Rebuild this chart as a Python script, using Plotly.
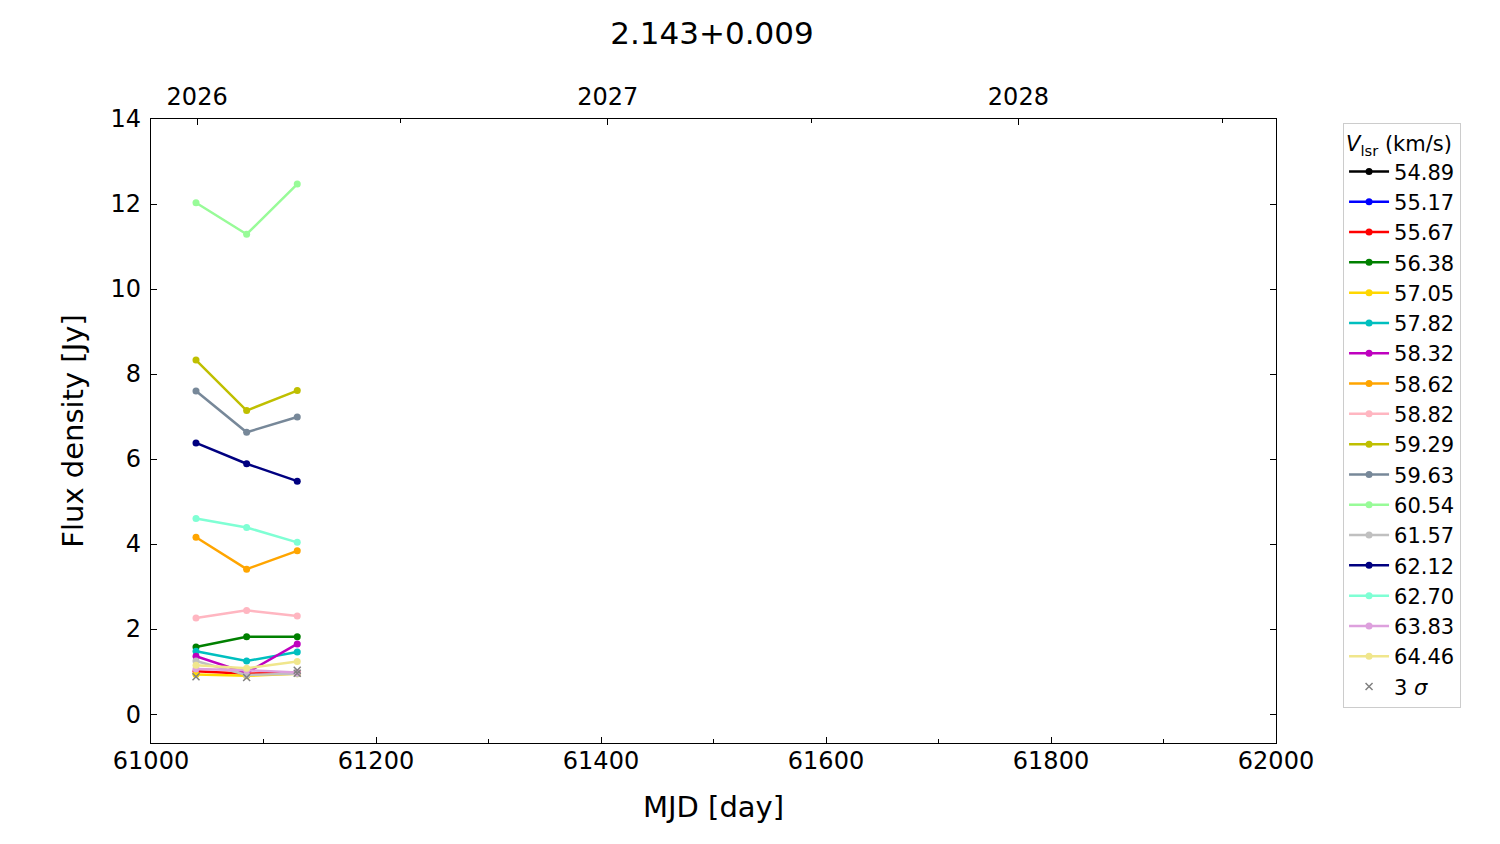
import plotly.graph_objects as go

mjd = [61040, 61085, 61130]
velocities = ["54.89", "55.17", "55.67", "56.38", "57.05", "57.82", "58.32", "58.62",
              "58.82", "59.29", "59.63", "60.54", "61.57", "62.12", "62.70", "63.83", "64.46"]
colors = ["#000000", "#0000FF", "#FF0000", "#008000", "#FFD700", "#00BFBF", "#BF00BF", "#FFA500",
          "#FFB6C1", "#BFBF00", "#778899", "#98FB98", "#C0C0C0", "#000080", "#7FFFD4", "#DDA0DD", "#F0E68C"]
flux = {
    "54.89": [None, None, None],
    "55.17": [None, None, None],
    "55.67": [1.01, 0.95, 0.97],
    "56.38": [1.58, 1.82, 1.82],
    "57.05": [0.93, 0.90, 0.95],
    "57.82": [1.48, 1.25, 1.46],
    "58.32": [1.36, 0.97, 1.65],
    "58.62": [4.16, 3.41, 3.84],
    "58.82": [2.26, 2.44, 2.31],
    "59.29": [8.33, 7.14, 7.61],
    "59.63": [7.60, 6.63, 6.99],
    "60.54": [12.03, 11.29, 12.47],
    "61.57": [1.25, 0.92, 0.95],
    "62.12": [6.38, 5.89, 5.48],
    "62.70": [4.60, 4.39, 4.04],
    "63.83": [1.06, 1.03, 0.98],
    "64.46": [1.15, 1.08, 1.24],
}
sigma_mjd = [61040, 61085, 61130, 61130]
sigma_flux = [0.88, 0.86, 0.96, 1.03]

x_ticks = [61000, 61200, 61400, 61600, 61800, 62000]
x_minor = [61100, 61300, 61500, 61700, 61900]
y_ticks = [0, 2, 4, 6, 8, 10, 12, 14]
year_mjd = [61041, 61406, 61771]
year_labels = ["2026", "2027", "2028"]
halfyear_mjd = [61222, 61587, 61952]

font = "DejaVu Sans"
fig = go.Figure()
for v, c in zip(velocities, colors):
    fig.add_trace(go.Scatter(x=mjd, y=flux[v], mode="lines+markers", name=v,
                             line=dict(color=c, width=2.5), marker=dict(color=c, size=7)))
fig.add_trace(go.Scatter(x=sigma_mjd, y=sigma_flux, mode="markers", name="3 <i>σ</i>",
                         marker=dict(symbol="x-thin", color="gray", size=7,
                                     line=dict(color="gray", width=1.5))))
# dummy trace to activate top axis
fig.add_trace(go.Scatter(x=[61000, 62000], y=[None, None], xaxis="x2", showlegend=False,
                         hoverinfo="skip"))

fig.update_layout(
    width=1500, height=844,
    plot_bgcolor="white", paper_bgcolor="white",
    margin=dict(l=143, r=232, t=111, b=109, autoexpand=False),
    font=dict(family=font, size=18, color="black"),
    title=dict(text="2.143+0.009", x=0.4693, xanchor="center", y=0.970, yanchor="middle",
               font=dict(size=31), automargin=False),
    xaxis=dict(range=[61000, 62000], tickvals=x_ticks, ticktext=[str(v) for v in x_ticks],
               ticks="inside", ticklen=6, tickcolor="black", showgrid=False, zeroline=False,
               showline=True, linecolor="black", linewidth=1.2, mirror=False, automargin=False,
               ticklabelstandoff=-4,
               minor=dict(tickvals=x_minor, ticks="inside", ticklen=4, tickcolor="black"),
               title=dict(text="MJD [day]", font=dict(size=29), standoff=22),
               tickfont=dict(size=24)),
    xaxis2=dict(range=[61000, 62000], overlaying="x", side="top", tickvals=year_mjd,
                ticktext=year_labels, ticks="inside", ticklen=6, tickcolor="black",
                showgrid=False, zeroline=False, showline=True, linecolor="black", linewidth=1.2,
                automargin=False, ticklabelstandoff=3,
                minor=dict(tickvals=halfyear_mjd, ticks="inside", ticklen=4, tickcolor="black"),
                tickfont=dict(size=24)),
    yaxis=dict(range=[-0.68, 14], tickvals=y_ticks, ticktext=[str(v) for v in y_ticks],
               ticks="inside", ticklen=6, tickcolor="black", showgrid=False, zeroline=False,
               showline=True, linecolor="black", linewidth=1.2, mirror="ticks", automargin=False,
               ticklabelstandoff=4,
               title=dict(text="Flux density [Jy]", font=dict(size=29), standoff=18),
               tickfont=dict(size=24)),
    legend=dict(x=1.0596, y=0.9936, xanchor="left", yanchor="top",
                bordercolor="#CCCCCC", borderwidth=1, bgcolor="white",
                font=dict(size=21), title=dict(text="<i>V</i><sub>lsr</sub> (km/s)",
                                               font=dict(size=21)),
                tracegroupgap=0, itemwidth=40),
)
fig.write_html("out.html")
